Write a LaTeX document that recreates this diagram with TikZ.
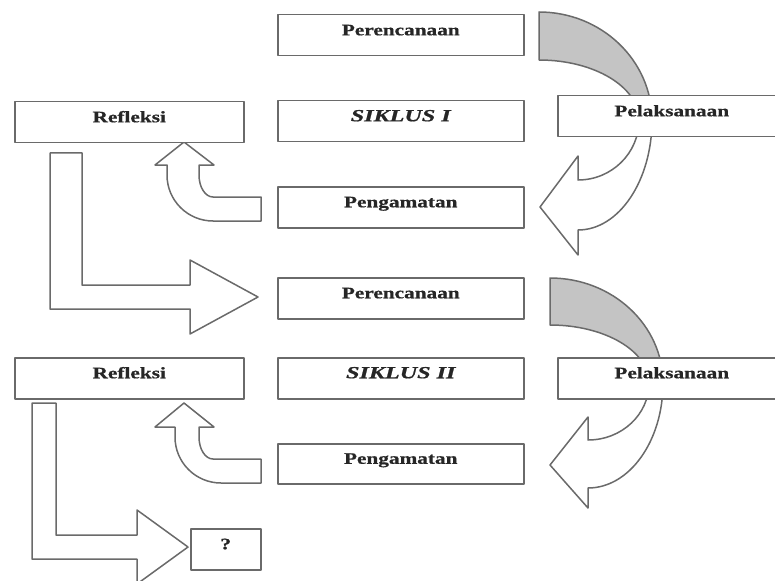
\documentclass[tikz,border=0pt]{standalone}
\usepackage{fontspec}
\setmainfont{Liberation Serif}[BoldFont={Liberation Serif Bold},BoldItalicFont={Liberation Serif Bold Italic},
  BoldFeatures={FakeBold=0.6},BoldItalicFeatures={FakeBold=0.8}]
\usepackage{graphicx}
\definecolor{ln}{HTML}{6A6A6A}
\definecolor{gf}{HTML}{C4C4C4}
\definecolor{tx}{HTML}{262626}
\newcommand{\lbl}[1]{\scalebox{1.33}[1]{\bfseries #1}}
\newcommand{\lbli}[1]{\scalebox{1.42}[1]{\fontsize{17}{20}\selectfont\bfseries\itshape #1}}
\begin{document}
\begin{tikzpicture}[x=1pt,y=1pt,line join=round,
  box/.style={draw=ln,line width=1.5pt,fill=white,rectangle,inner sep=0pt,anchor=north west,
    text height=5pt,text depth=5pt,text=tx,font=\fontsize{16}{19}\selectfont},
  blk/.style={draw=ln,line width=1.5pt,fill=white},
  curvA/.style={insert path={(539,-12) arc[start angle=90,end angle=0,x radius=113,y radius=108]
    arc[start angle=0,end angle=-90,x radius=74,y radius=110] -- (578,-255) -- (540,-207) -- (578,-156) -- (578,-180)
    arc[start angle=-90,end angle=0,x radius=61,y radius=60]
    arc[start angle=0,end angle=90,x radius=100,y radius=60] -- cycle}},
  curvB/.style={insert path={(550,-278) arc[start angle=90,end angle=0,x radius=113,y radius=105]
    arc[start angle=0,end angle=-90,x radius=75,y radius=105] -- (588,-508) -- (550,-465) -- (588,-417) -- (588,-440)
    arc[start angle=-90,end angle=0,x radius=61,y radius=57]
    arc[start angle=0,end angle=90,x radius=99,y radius=58] -- cycle}}]
\useasboundingbox (0,0) rectangle (775,-580);
\clip (0,0) rectangle (775,-580);

% curved arrow, cycle I
\fill[white,curvA];
\begin{scope}
  \clip (0,0) rectangle (775,-95);
  \fill[gf,curvA];
\end{scope}
\draw[ln,line width=1.5pt,curvA];

% curved arrow, cycle II
\fill[white,curvB];
\begin{scope}
  \clip (0,0) rectangle (775,-357);
  \fill[gf,curvB];
\end{scope}
\draw[ln,line width=1.5pt,curvB];

% small up arrows
\draw[blk] (167,-165) -- (167,-175) arc[start angle=180,end angle=270,x radius=46,y radius=46]
  -- (261,-221) -- (261,-197) -- (213,-197) arc[start angle=270,end angle=180,x radius=14,y radius=22]
  -- (199,-165) -- (214,-165) -- (184,-142) -- (155,-165) -- cycle;
\draw[blk] (175,-427) -- (175,-437) arc[start angle=180,end angle=270,x radius=46,y radius=46]
  -- (261,-483) -- (261,-459) -- (213,-459) arc[start angle=270,end angle=180,x radius=14,y radius=22]
  -- (199,-427) -- (214,-427) -- (184,-403) -- (155,-427) -- cycle;

% L-shaped arrows
\draw[blk] (50,-153) -- (82,-153) -- (82,-285) -- (190,-285) -- (190,-260) -- (258,-297)
  -- (190,-334) -- (190,-309) -- (50,-309) -- cycle;
\draw[blk] (32,-403) -- (56,-403) -- (56,-535) -- (137,-535) -- (137,-510) -- (188,-547)
  -- (137,-584) -- (137,-559) -- (32,-559) -- cycle;

% boxes, cycle I
\node[box,minimum width=246pt,minimum height=41pt] (p1) at (277,-14) {\lbl{Perencanaan}};
\node[box,minimum width=246pt,minimum height=41pt] (s1) at (277,-100) {\lbli{SIKLUS I}};
\node[box,minimum width=246pt,minimum height=41pt] (g1) at (277,-186) {\lbl{Pengamatan}};
\node[box,minimum width=229pt,minimum height=41pt] (r1) at (14,-101) {\lbl{Refleksi}};
\node[box,minimum width=228pt,minimum height=41pt] (l1) at (557,-95) {\lbl{Pelaksanaan}};

% boxes, cycle II
\node[box,minimum width=246pt,minimum height=41pt] (p2) at (277,-277) {\lbl{Perencanaan}};
\node[box,minimum width=246pt,minimum height=41pt] (s2) at (277,-357) {\lbli{SIKLUS II}};
\node[box,minimum width=246pt,minimum height=40pt] (g2) at (277,-443) {\lbl{Pengamatan}};
\node[box,minimum width=229pt,minimum height=41pt] (r2) at (14,-357) {\lbl{Refleksi}};
\node[box,minimum width=228pt,minimum height=41pt] (l2) at (557,-357) {\lbl{Pelaksanaan}};
\node[box,minimum width=70pt,minimum height=41pt] (q) at (190,-528) {\lbl{?}};
\end{tikzpicture}
\end{document}
